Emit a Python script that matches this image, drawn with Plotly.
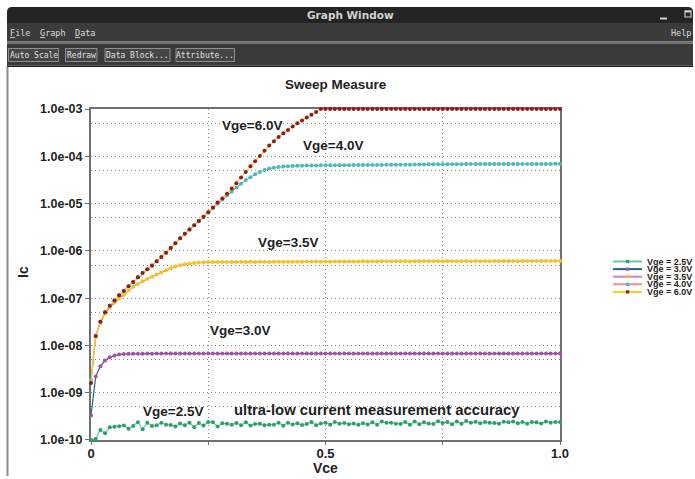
import plotly.graph_objects as go

# ---------------- data ----------------
VCE = [i / 100 for i in range(101)]

SERIES_NAMES = ["Vge = 2.5V", "Vge = 3.0V", "Vge = 3.5V", "Vge = 4.0V", "Vge = 6.0V"]

IC_25 = [
    1.0e-10, 1.05e-10, 1.62e-10, 1.38e-10, 1.85e-10, 1.90e-10, 1.95e-10, 2.02e-10, 1.72e-10, 1.98e-10,
    2.36e-10, 1.68e-10, 2.30e-10, 1.98e-10, 2.05e-10, 2.32e-10, 2.10e-10, 2.06e-10, 1.92e-10, 2.22e-10,
    2.05e-10, 2.30e-10, 1.85e-10, 2.28e-10, 2.02e-10, 2.40e-10, 2.36e-10, 1.92e-10, 2.25e-10, 2.20e-10,
    2.10e-10, 2.28e-10, 2.05e-10, 2.35e-10, 2.02e-10, 2.18e-10, 2.20e-10, 2.05e-10, 2.08e-10, 2.10e-10,
    2.32e-10, 2.00e-10, 2.30e-10, 2.12e-10, 2.25e-10, 2.06e-10, 2.18e-10, 2.40e-10, 2.05e-10, 2.22e-10,
    2.30e-10, 2.10e-10, 2.40e-10, 2.20e-10, 2.28e-10, 2.15e-10, 2.22e-10, 2.08e-10, 2.25e-10, 2.12e-10,
    2.35e-10, 2.10e-10, 2.45e-10, 2.30e-10, 2.32e-10, 2.20e-10, 2.18e-10, 2.40e-10, 2.08e-10, 2.45e-10,
    2.15e-10, 2.35e-10, 2.22e-10, 2.18e-10, 2.48e-10, 2.28e-10, 2.38e-10, 2.15e-10, 2.45e-10, 2.20e-10,
    2.50e-10, 2.30e-10, 2.42e-10, 2.25e-10, 2.38e-10, 2.30e-10, 2.28e-10, 2.20e-10, 2.42e-10, 2.35e-10,
    2.45e-10, 2.25e-10, 2.38e-10, 2.20e-10, 2.40e-10, 2.35e-10, 2.22e-10, 2.45e-10, 2.32e-10, 2.40e-10,
    2.38e-10,
]

IC_30 = [
    3.3e-10, 2.2e-9, 3.6e-9, 4.8e-9, 5.6e-9, 6.1e-9, 6.4e-9, 6.55e-9, 6.62e-9, 6.66e-9,
    6.68e-9, 6.69e-9, 6.70e-9, 6.69e-9, 6.70e-9, 6.71e-9, 6.70e-9, 6.70e-9, 6.71e-9, 6.70e-9,
    6.70e-9, 6.71e-9, 6.70e-9, 6.71e-9, 6.70e-9, 6.70e-9, 6.71e-9, 6.70e-9, 6.71e-9, 6.70e-9,
    6.70e-9, 6.71e-9, 6.70e-9, 6.70e-9, 6.71e-9, 6.70e-9, 6.71e-9, 6.70e-9, 6.70e-9, 6.71e-9,
    6.70e-9, 6.71e-9, 6.70e-9, 6.70e-9, 6.71e-9, 6.70e-9, 6.71e-9, 6.70e-9, 6.70e-9, 6.71e-9,
    6.70e-9, 6.71e-9, 6.70e-9, 6.70e-9, 6.71e-9, 6.70e-9, 6.71e-9, 6.70e-9, 6.70e-9, 6.71e-9,
    6.70e-9, 6.71e-9, 6.70e-9, 6.70e-9, 6.71e-9, 6.70e-9, 6.71e-9, 6.70e-9, 6.70e-9, 6.71e-9,
    6.70e-9, 6.71e-9, 6.70e-9, 6.70e-9, 6.71e-9, 6.70e-9, 6.71e-9, 6.70e-9, 6.70e-9, 6.71e-9,
    6.70e-9, 6.71e-9, 6.70e-9, 6.70e-9, 6.71e-9, 6.70e-9, 6.71e-9, 6.70e-9, 6.70e-9, 6.71e-9,
    6.70e-9, 6.71e-9, 6.70e-9, 6.70e-9, 6.71e-9, 6.70e-9, 6.71e-9, 6.70e-9, 6.70e-9, 6.71e-9,
    6.70e-9,
]

IC_35 = [
    1.8e-9, 1.5e-8, 3.0e-8, 4.7e-8, 6.3e-8, 8.0e-8, 9.8e-8, 1.17e-7, 1.45e-7, 1.75e-7,
    2.00e-7, 2.28e-7, 2.55e-7, 2.82e-7, 3.15e-7, 3.50e-7, 3.90e-7, 4.30e-7, 4.65e-7, 4.95e-7,
    5.20e-7, 5.40e-7, 5.55e-7, 5.68e-7, 5.75e-7, 5.80e-7, 5.82e-7, 5.80e-7, 5.83e-7, 5.81e-7,
    5.84e-7, 5.82e-7, 5.85e-7, 5.83e-7, 5.86e-7, 5.84e-7, 5.85e-7, 5.87e-7, 5.84e-7, 5.88e-7,
    5.86e-7, 5.90e-7, 5.85e-7, 5.92e-7, 5.88e-7, 5.90e-7, 5.94e-7, 5.89e-7, 5.95e-7, 5.90e-7,
    5.96e-7, 5.92e-7, 5.97e-7, 5.93e-7, 5.98e-7, 5.95e-7, 5.99e-7, 5.94e-7, 6.00e-7, 5.96e-7,
    6.01e-7, 5.97e-7, 6.00e-7, 6.02e-7, 5.98e-7, 6.03e-7, 6.00e-7, 6.04e-7, 5.99e-7, 6.03e-7,
    6.05e-7, 6.00e-7, 6.06e-7, 6.02e-7, 6.05e-7, 6.03e-7, 6.07e-7, 6.02e-7, 6.06e-7, 6.04e-7,
    6.08e-7, 6.05e-7, 6.07e-7, 6.04e-7, 6.08e-7, 6.06e-7, 6.09e-7, 6.05e-7, 6.08e-7, 6.07e-7,
    6.10e-7, 6.06e-7, 6.09e-7, 6.08e-7, 6.10e-7, 6.07e-7, 6.11e-7, 6.08e-7, 6.10e-7, 6.09e-7,
    6.10e-7,
]

IC_40 = [
    1.9e-9, 1.58e-8, 3.16e-8, 5.0e-8, 6.9e-8, 8.9e-8, 1.15e-7, 1.41e-7, 1.78e-7, 2.19e-7,
    2.75e-7, 3.39e-7, 4.07e-7, 4.9e-7, 6.0e-7, 7.4e-7, 9.1e-7, 1.15e-6, 1.45e-6, 1.86e-6,
    2.29e-6, 2.82e-6, 3.47e-6, 4.27e-6, 5.25e-6, 6.5e-6, 8.1e-6, 1.0e-5, 1.23e-5, 1.48e-5,
    1.78e-5, 2.19e-5, 2.63e-5, 3.16e-5, 3.63e-5, 4.17e-5, 4.68e-5, 5.13e-5, 5.50e-5, 5.75e-5,
    5.95e-5, 6.10e-5, 6.20e-5, 6.25e-5, 6.30e-5, 6.35e-5, 6.38e-5, 6.40e-5, 6.42e-5, 6.45e-5,
    6.45e-5, 6.47e-5, 6.48e-5, 6.50e-5, 6.50e-5, 6.52e-5, 6.53e-5, 6.55e-5, 6.55e-5, 6.56e-5,
    6.58e-5, 6.60e-5, 6.60e-5, 6.62e-5, 6.63e-5, 6.65e-5, 6.65e-5, 6.67e-5, 6.68e-5, 6.70e-5,
    6.72e-5, 6.75e-5, 6.78e-5, 6.80e-5, 6.80e-5, 6.82e-5, 6.82e-5, 6.83e-5, 6.83e-5, 6.84e-5,
    6.85e-5, 6.85e-5, 6.86e-5, 6.86e-5, 6.87e-5, 6.87e-5, 6.88e-5, 6.88e-5, 6.89e-5, 6.89e-5,
    6.90e-5, 6.90e-5, 6.90e-5, 6.91e-5, 6.91e-5, 6.92e-5, 6.92e-5, 6.93e-5, 6.93e-5, 6.94e-5,
    6.95e-5,
]

IC_60 = [
    1.6e-9, 1.58e-8, 3.16e-8, 5.0e-8, 6.9e-8, 8.9e-8, 1.15e-7, 1.41e-7, 1.78e-7, 2.19e-7,
    2.75e-7, 3.39e-7, 4.07e-7, 4.9e-7, 6.0e-7, 7.4e-7, 9.1e-7, 1.15e-6, 1.45e-6, 1.86e-6,
    2.29e-6, 2.82e-6, 3.47e-6, 4.27e-6, 5.25e-6, 6.6e-6, 8.3e-6, 1.05e-5, 1.29e-5, 1.62e-5,
    2.09e-5, 2.69e-5, 3.55e-5, 4.68e-5, 6.17e-5, 7.9e-5, 1.02e-4, 1.32e-4, 1.70e-4, 2.09e-4,
    2.57e-4, 3.09e-4, 3.63e-4, 4.27e-4, 5.0e-4, 5.75e-4, 6.6e-4, 7.6e-4, 8.7e-4, 1.0e-3,
    1.0e-3, 1.0e-3, 1.0e-3, 1.0e-3, 1.0e-3, 1.0e-3, 1.0e-3, 1.0e-3, 1.0e-3, 1.0e-3,
    1.0e-3, 1.0e-3, 1.0e-3, 1.0e-3, 1.0e-3, 1.0e-3, 1.0e-3, 1.0e-3, 1.0e-3, 1.0e-3,
    1.0e-3, 1.0e-3, 1.0e-3, 1.0e-3, 1.0e-3, 1.0e-3, 1.0e-3, 1.0e-3, 1.0e-3, 1.0e-3,
    1.0e-3, 1.0e-3, 1.0e-3, 1.0e-3, 1.0e-3, 1.0e-3, 1.0e-3, 1.0e-3, 1.0e-3, 1.0e-3,
    1.0e-3, 1.0e-3, 1.0e-3, 1.0e-3, 1.0e-3, 1.0e-3, 1.0e-3, 1.0e-3, 1.0e-3, 1.0e-3,
    1.0e-3,
]

SERIES_VALUES = [IC_25, IC_30, IC_35, IC_40, IC_60]
LINE_COLORS = ["#62c9a6", "#2f5d86", "#c586cf", "#f08c8c", "#f7cf1c"]
MARKER_COLORS = ["#2aa06a", "#a84fae", "#f4c515", "#3fbfbf", "#8e1b22"]

Y_TICK_VALUES = [1e-10, 1e-9, 1e-8, 1e-7, 1e-6, 1e-5, 1e-4, 1e-3]
Y_TICK_TEXT = ["1.0e-10", "1.0e-09", "1.0e-08", "1.0e-07", "1.0e-06", "1.0e-05", "1.0e-04", "1.0e-03"]
Y_MINOR_VALUES = [5e-10, 5e-9, 5e-8, 5e-7, 5e-6, 5e-5, 5e-4]
X_TICK_VALUES = [0, 0.5, 1.0]
X_TICK_TEXT = ["0", "0.5", "1.0"]
X_MINOR_VALUES = [0.25, 0.75]

# ---------------- layout helpers ----------------
W, H = 695, 479
L, R, T, B = 91, 560, 109, 440


def px(x):
    return (x - L) / (R - L)


def py(y):
    return (B - y) / (B - T)


BOLD = "Liberation Sans, Arial, sans-serif"
MONO = "DejaVu Sans Mono, monospace"

fig = go.Figure()
for name, vals, lc, mc in zip(SERIES_NAMES, SERIES_VALUES, LINE_COLORS, MARKER_COLORS):
    fig.add_trace(go.Scatter(
        x=VCE, y=vals, name=name, mode="lines+markers",
        line=dict(color=lc, width=1.2),
        marker=dict(color=mc, size=4, symbol="circle", line=dict(width=0)),
        cliponaxis=False, showlegend=False,
    ))

shapes = []
annotations = []


def rect(x0, y0, x1, y1, fill, line_color=None, lw=0):
    shapes.append(dict(type="rect", xref="paper", yref="paper",
                       x0=px(x0), x1=px(x1), y0=py(y0), y1=py(y1),
                       fillcolor=fill, line=dict(color=line_color or fill, width=lw),
                       layer="above"))


def seg(x0, y0, x1, y1, color, w):
    shapes.append(dict(type="line", xref="paper", yref="paper",
                       x0=px(x0), x1=px(x1), y0=py(y0), y1=py(y1),
                       line=dict(color=color, width=w), layer="above"))


def text(x, y, s, size, color, family, weight="normal", xanchor="center", angle=0):
    annotations.append(dict(xref="paper", yref="paper", x=px(x), y=py(y), text=s,
                            showarrow=False, xanchor=xanchor, yanchor="middle",
                            textangle=angle,
                            font=dict(size=size, color=color, family=family, weight=weight)))


# window chrome
title_path = "M {a},{b} L {a},{c} Q {a},{d} {e},{d} L {f},{d} Q {g},{d} {g},{c} L {g},{b} Z".format(
    a=px(7), b=py(23), c=py(12), d=py(7), e=px(12), f=px(688), g=px(693))
shapes.append(dict(type="path", xref="paper", yref="paper", path=title_path,
                   fillcolor="#242424", line=dict(color="#242424", width=0), layer="above"))
rect(7, 23, 693, 41.5, "#3b3b3b")
rect(7, 41.5, 693, 43.5, "#6a6a6a")
rect(7, 43.5, 693, 65.5, "#3a3a3a")
rect(7, 65.5, 693, 67, "#1e1e1e")
seg(7.5, 67, 7.5, 476, "#8a8a8a", 2)

text(350, 15, "Graph Window", 10.5, "#d2d2d2", "DejaVu Sans, sans-serif", "bold")
seg(660, 18.5, 667, 18.5, "#d0d0d0", 2)
rect(685, 11, 691, 17, "#242424", "#d0d0d0", 1.2)
seg(685, 11.5, 691, 11.5, "#d0d0d0", 2)

u = "<span style='text-decoration:underline'>{}</span>"
text(20, 33, u.format("F") + "ile", 8.5, "#dcdcdc", MONO)
text(52.5, 33, u.format("G") + "raph", 8.5, "#dcdcdc", MONO)
text(85, 33, u.format("D") + "ata", 8.5, "#dcdcdc", MONO)
text(681, 33, "Help", 8.5, "#dcdcdc", MONO)

for (x0, x1, label) in [(8.5, 58.5, "Auto Scale"), (65.5, 97, "Redraw"),
                        (105, 170, "Data Block..."), (176, 234.5, "Attribute...")]:
    rect(x0, 48.5, x1, 61.5, "#454545", "#8e8e8e", 1)
    text((x0 + x1) / 2, 55, label, 8, "#e0e0e0", MONO)

# chart texts
text(336, 84, "Sweep Measure", 13.5, "#222222", BOLD, "bold")
text(23, 272, "Ic", 14, "#222222", BOLD, "bold", angle=-90)
text(325, 468, "Vce", 14, "#222222", BOLD, "bold")
text(252, 125, "Vge=6.0V", 13.5, "#1e1e1e", BOLD, "bold")
text(333, 145, "Vge=4.0V", 13.5, "#1e1e1e", BOLD, "bold")
text(288, 242, "Vge=3.5V", 13.5, "#1e1e1e", BOLD, "bold")
text(240, 330, "Vge=3.0V", 13.5, "#1e1e1e", BOLD, "bold")
text(173, 411, "Vge=2.5V", 13.5, "#1e1e1e", BOLD, "bold")
text(377, 410, "ultra-low current measurement accuracy", 14.8, "#1e1e1e", BOLD, "bold")

# manual compact legend
for i, (name, lc, mc) in enumerate(zip(SERIES_NAMES, LINE_COLORS, MARKER_COLORS)):
    yy = 261.5 + 7.6 * i
    seg(613, yy, 642, yy, lc, 2)
    rect(626, yy - 1.6, 629.2, yy + 1.6, mc)
    text(644.5, yy, name, 9, "#1e1e1e", BOLD, "bold", xanchor="left")

grid = dict(showgrid=True, gridcolor="#8a8a8a", gridwidth=1, griddash="1px,3px")
fig.update_layout(
    width=W, height=H,
    margin=dict(l=L, r=W - R, t=T, b=H - B, pad=0),
    paper_bgcolor="white", plot_bgcolor="white",
    showlegend=False,
    shapes=shapes, annotations=annotations,
    xaxis=dict(range=[0, 1], tickmode="array", tickvals=X_TICK_VALUES, ticktext=X_TICK_TEXT,
               ticks="outside", ticklen=3, tickcolor="#6e6e6e", layer="below traces",
               ticklabelstandoff=-3,
               tickfont=dict(size=13, color="#222222", family=BOLD, weight="bold"),
               showline=True, linecolor="#707070", linewidth=2, mirror=True, zeroline=False,
               minor=dict(tickmode="array", tickvals=X_MINOR_VALUES, ticks="outside", ticklen=3,
                          tickcolor="#6e6e6e", **grid),
               **grid),
    yaxis=dict(type="log", range=[-10.002, -2.998], tickmode="array", tickvals=Y_TICK_VALUES,
               ticktext=Y_TICK_TEXT, ticks="outside", ticklen=4, tickcolor="#6e6e6e",
               layer="below traces",
               tickfont=dict(size=12.5, color="#222222", family=BOLD, weight="bold"),
               showline=True, linecolor="#707070", linewidth=2, mirror=True, zeroline=False,
               minor=dict(tickmode="array", tickvals=Y_MINOR_VALUES, ticks="", **grid),
               **grid),
)

fig.write_html("out.html", config={"displayModeBar": False},
               post_script="document.body.style.margin='0px';")
